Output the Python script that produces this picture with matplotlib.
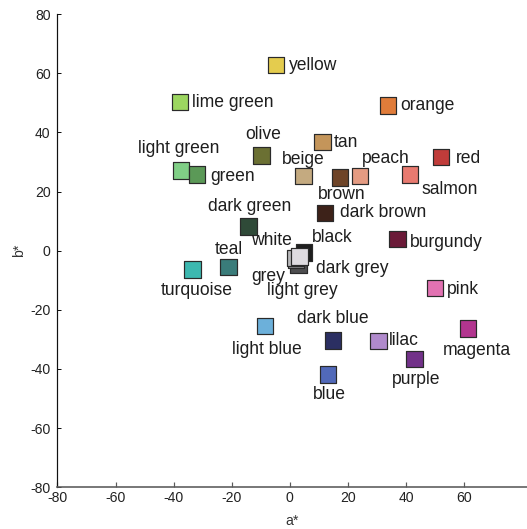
import matplotlib.pyplot as plt

plt.rcParams['font.family'] = ['Liberation Sans', 'DejaVu Sans']
plt.rcParams['axes.unicode_minus'] = False

# CIELAB a*/b* coordinates of named colour terms
names = ["yellow", "lime green", "orange", "tan", "olive", "light green", "green",
         "beige", "brown", "peach", "salmon", "red", "dark green", "dark brown",
         "dark grey", "grey", "light grey", "black", "white", "teal", "turquoise",
         "burgundy", "pink", "light blue", "dark blue", "lilac", "magenta",
         "purple", "blue"]
a_star = [-4.8, -37.8, 33.8, 11.2, -9.8, -37.5, -32.0,
          4.7, 17.3, 24.2, 41.4, 52.0, -14.3, 12.1,
          3.0, 2.2, 1.7, 4.9, 3.4, -21.1, -33.5,
          37.1, 50.0, -8.6, 14.9, 30.5, 61.3,
          43.0, 13.2]
b_star = [62.7, 50.2, 49.0, 36.7, 32.2, 27.1, 25.8,
          25.2, 24.8, 25.2, 25.7, 31.6, 8.1, 12.8,
          -4.6, -3.0, -2.4, -0.7, -2.0, -5.5, -6.3,
          4.0, -12.7, -25.4, -30.3, -30.5, -26.3,
          -36.6, -41.9]
fills = ["#e4cc4e", "#9cd660", "#e07c3a", "#c4955a", "#6b7033", "#80cf86", "#5b9957",
         "#c4aa80", "#6e4428", "#e49b82", "#e87a70", "#c03c3a", "#2f4a38", "#3d2219",
         "#4e4e50", "#8a8a8c", "#b8b8ba", "#1e1e1e", "#dedbe0", "#3a7c7a", "#3cb8b0",
         "#6b1a38", "#e272b2", "#6cb0da", "#2b2f62", "#b08acc", "#b2358f",
         "#723189", "#5169b9"]

# label placement: (dx, dy) in points from the square centre, horizontal alignment
label_pos = {
    "yellow": (13, 0, "left"), "lime green": (12, 0, "left"), "orange": (12, 0, "left"),
    "tan": (11, 0, "left"), "olive": (2, 21, "center"), "light green": (-2, 22, "center"),
    "green": (13, -2, "left"), "beige": (0, 17, "center"), "brown": (2, -17, "center"),
    "peach": (26, 18, "center"), "salmon": (40, -15, "center"), "red": (15, -1, "left"),
    "dark green": (1, 20, "center"), "dark brown": (15, 0, "left"),
    "dark grey": (17, -4, "left"), "grey": (-28, -17, "center"),
    "light grey": (8, -33, "center"), "black": (28, 15, "center"),
    "white": (-28, 16, "center"), "teal": (0, 17, "center"),
    "turquoise": (4, -21, "center"), "burgundy": (12, -4, "left"),
    "pink": (12, -1, "left"), "light blue": (2, -24, "center"),
    "dark blue": (0, 22, "center"), "lilac": (10, 0, "left"),
    "magenta": (9, -22, "center"), "purple": (1, -21, "center"),
    "blue": (1, -20, "center"),
}

fig = plt.figure(figsize=(527 / 72, 529 / 72), dpi=72)
ax = fig.add_axes([0.1091, 0.0788, 0.89, 0.8947])

ax.scatter(a_star, b_star, s=16.5 ** 2, marker="s", c=fills,
           edgecolors="#2a2a2a", linewidths=1.2, zorder=3)

for name, x, y in zip(names, a_star, b_star):
    dx, dy, ha = label_pos[name]
    ax.annotate(name, (x, y), xytext=(dx, dy), textcoords="offset points",
                ha=ha, va="center", fontsize=17.5, color="#1e1e1e")

ax.set_xlim(-80, 81.5)
ax.set_ylim(-80, 80)
ax.set_xticks(range(-80, 61, 20))
ax.set_yticks(range(-80, 81, 20))

for side in ["top", "right"]:
    ax.spines[side].set_visible(False)
ax.spines["left"].set_color("#111111")
ax.spines["left"].set_linewidth(1.2)
ax.spines["bottom"].set_color("#5a5a5a")
ax.spines["bottom"].set_linewidth(1.6)

ax.tick_params(axis="x", direction="in", length=5, width=1.2, color="#5a5a5a",
               labelsize=14, pad=4, labelcolor="#222222")
ax.tick_params(axis="y", direction="in", length=4, width=1, color="#111111",
               labelsize=14, pad=7, labelcolor="#222222")

ax.set_xlabel("a*", fontsize=14, color="#333333", labelpad=9)
ax.set_ylabel("b*", fontsize=14, color="#333333", labelpad=4)

fig.savefig("out.png", dpi=72)
